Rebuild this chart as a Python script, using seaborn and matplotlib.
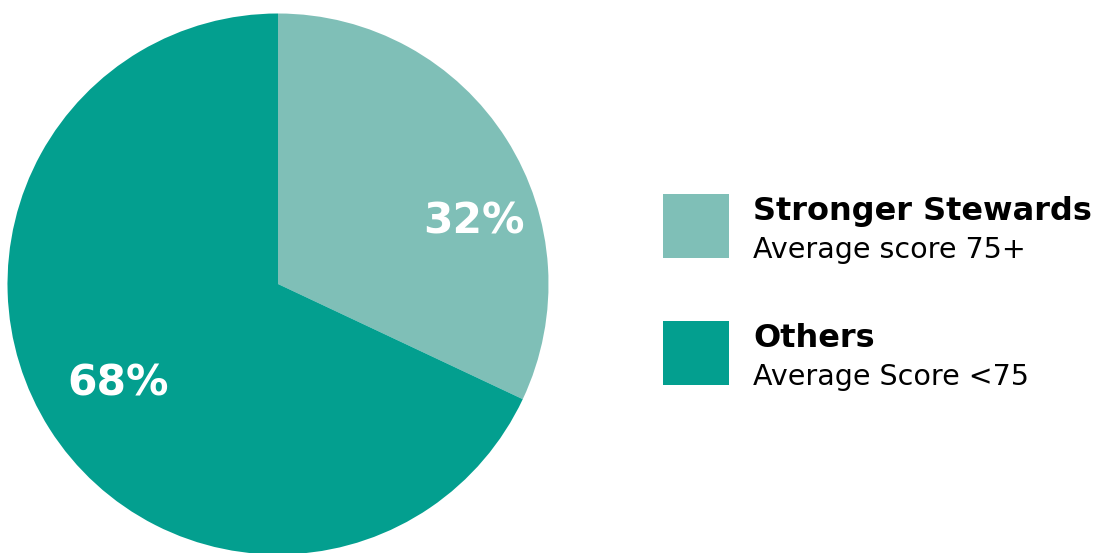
import matplotlib
matplotlib.use("Agg")
import matplotlib.pyplot as plt
import seaborn as sns
from matplotlib.patches import Rectangle

categories = ["Stronger Stewards", "Others"]
subtitles = ["Average score 75+", "Average Score <75"]
values = [32, 68]
pct_labels = ["32%", "68%"]
colors = ["#7fbfb7", "#039f8f"]

sns.set_theme(style="white")
plt.rcParams["font.family"] = ["DejaVu Sans"]

W, H = 1095, 553
fig = plt.figure(figsize=(W / 100, H / 100), dpi=100)
fig.patch.set_facecolor("white")

cx, cy, r = 278, 284, 270.5
ax = fig.add_axes([(cx - r) / W, (H - cy - r) / H, 2 * r / W, 2 * r / H])
ax.pie(values, colors=colors, startangle=90, counterclock=False,
       radius=1, wedgeprops=dict(linewidth=0))
ax.set_xlim(-1, 1)
ax.set_ylim(-1, 1)
ax.set_aspect("equal")
ax.axis("off")

label_pos = [(0.725, 0.232), (-0.591, -0.366)]
for (x, y), t in zip(label_pos, pct_labels):
    ax.text(x, y, t, color="white", fontsize=30.5, fontweight="bold",
            ha="center", va="center")

def fx(x):
    return x / W

def fy(y):
    return 1 - y / H

box_tops = [194, 321]
for i, (cat, sub, col) in enumerate(zip(categories, subtitles, colors)):
    top = box_tops[i]
    fig.add_artist(Rectangle((fx(663), fy(top + 64)), 66 / W, 64 / H,
                             transform=fig.transFigure, facecolor=col,
                             edgecolor="none"))
    fig.text(fx(753), fy(top + 26), cat, fontsize=23, fontweight="bold",
             color="black", ha="left", va="baseline")
    fig.text(fx(753), fy(top + 64), sub, fontsize=20.5, color="black",
             ha="left", va="baseline")

fig.savefig("out.png", dpi=100, facecolor="white")
